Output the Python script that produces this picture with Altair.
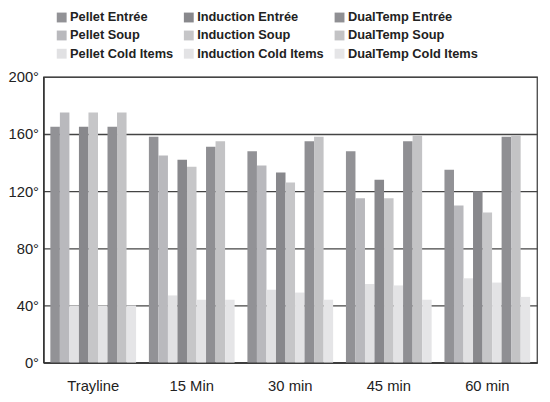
import altair as alt
import pandas as pd

groups = ["Trayline", "15 Min", "30 min", "45 min", "60 min"]
series = ["Pellet Entrée", "Pellet Soup", "Pellet Cold Items",
          "Induction Entrée", "Induction Soup", "Induction Cold Items",
          "DualTemp Entrée", "DualTemp Soup", "DualTemp Cold Items"]
colors = ["#929296", "#b9b9bd", "#e1e1e3",
          "#88888c", "#c6c6c8", "#e3e3e5",
          "#8f8f93", "#c3c3c5", "#e5e5e7"]

pellet_entree = [165, 158, 148, 148, 135]
pellet_soup = [175, 145, 138, 115, 110]
pellet_cold = [40, 47, 51, 55, 59]
induction_entree = [165, 142, 133, 128, 120]
induction_soup = [175, 137, 126, 115, 105]
induction_cold = [40, 44, 49, 54, 56]
dualtemp_entree = [165, 151, 155, 155, 158]
dualtemp_soup = [175, 155, 158, 159, 159]
dualtemp_cold = [40, 44, 44, 44, 46]

vals = [pellet_entree, pellet_soup, pellet_cold,
        induction_entree, induction_soup, induction_cold,
        dualtemp_entree, dualtemp_soup, dualtemp_cold]

rows = []
for s, v in zip(series, vals):
    for g, y in zip(groups, v):
        rows.append({"group": g, "series": s, "value": y})
df = pd.DataFrame(rows)

chart = alt.Chart(df).mark_bar().encode(
    x=alt.X("group:N", sort=groups, title=None,
            scale=alt.Scale(paddingInner=0.13, paddingOuter=0.07),
            axis=alt.Axis(labelAngle=0, labelFontSize=15, labelColor="#222",
                          labelFont="Liberation Sans", ticks=False, domain=True,
                          domainColor="#333", domainWidth=1.5, labelPadding=16)),
    xOffset=alt.XOffset("series:N", sort=series),
    y=alt.Y("value:Q", title=None,
            scale=alt.Scale(domain=[0, 200], nice=False),
            axis=alt.Axis(values=[0, 40, 80, 120, 160, 200], labelExpr="datum.value + '°'",
                          labelFontSize=15, labelColor="#222", labelFont="Liberation Sans",
                          ticks=False, labelPadding=5, grid=True, gridColor="#444",
                          gridWidth=1.3, domainColor="#333", domainWidth=1.5)),
    color=alt.Color("series:N", scale=alt.Scale(domain=series, range=colors),
                    legend=alt.Legend(title=None, orient="none", legendX=12, legendY=-67,
                                      columns=3, columnPadding=9, rowPadding=4.5,
                                      symbolType="square", symbolSize=100,
                                      symbolStrokeWidth=0, labelFontSize=13,
                                      labelFont="Liberation Sans", labelFontWeight="bold",
                                      labelColor="#222", labelOffset=2)),
).properties(
    width=501, height=290,
    autosize=alt.AutoSizeParams(type="none"),
    padding={"left": 36, "top": 67, "right": 5, "bottom": 30},
).configure_view(stroke="#444", strokeWidth=1.3)

chart.save("out.html", embed_options={"renderer": "svg", "actions": False})
